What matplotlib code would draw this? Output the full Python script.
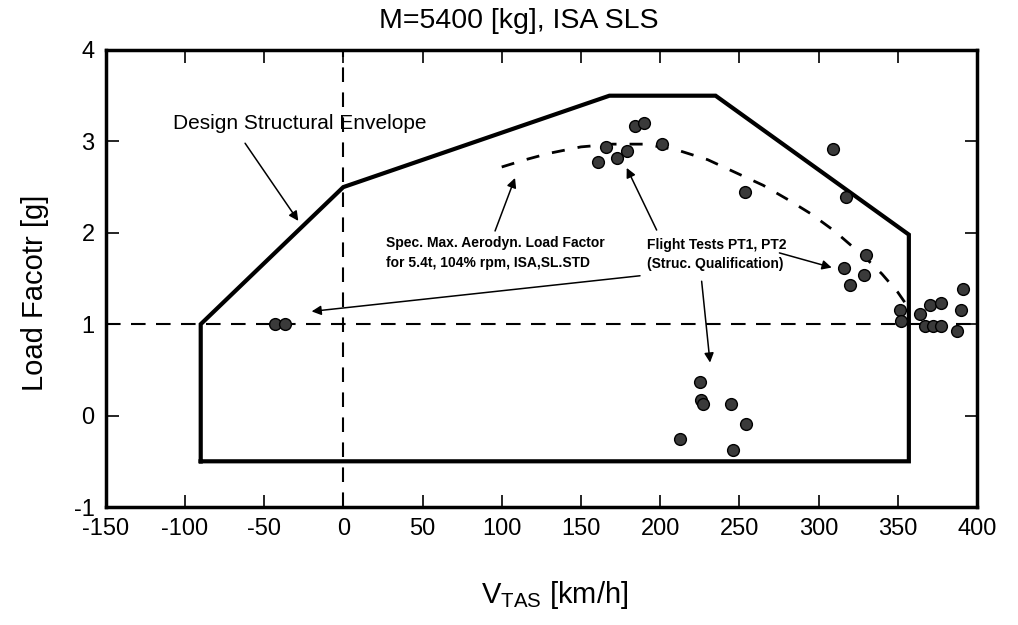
import matplotlib
matplotlib.use('Agg')
import matplotlib.pyplot as plt

plt.rcParams['font.family'] = ['Liberation Sans', 'DejaVu Sans']
plt.rcParams['mathtext.fontset'] = 'custom'
plt.rcParams['mathtext.rm'] = 'Liberation Sans'
plt.rcParams['mathtext.it'] = 'Liberation Sans'
plt.rcParams['axes.unicode_minus'] = False

# design structural envelope (closed polygon)
env_v = [-90, -90, 0, 168, 235, 357, 357, -90]
env_g = [-0.5, 1.0, 2.5, 3.5, 3.5, 1.98, -0.5, -0.5]

# specified max aerodynamic load factor curve
spec_v = [100, 115, 130, 150, 170, 190, 210, 230, 250, 265, 280, 295, 310, 320, 330, 340, 350, 356]
spec_g = [2.72, 2.80, 2.87, 2.94, 2.97, 2.97, 2.91, 2.80, 2.64, 2.52, 2.37, 2.21, 2.02, 1.87, 1.72, 1.55, 1.35, 1.20]

# flight test points PT1, PT2
test_v = [-43, -37,
          161, 166, 173, 179, 201, 184, 190,
          253.5, 309, 317.5,
          316, 320, 329, 330,
          351.5, 352, 364, 370.5, 377, 367.5, 372.5, 377, 387.5, 391, 390,
          225, 226, 227, 244.5, 254.5, 212.5, 246]
test_g = [1.0, 1.0,
          2.78, 2.94, 2.82, 2.90, 2.97, 3.17, 3.20,
          2.45, 2.92, 2.39,
          1.62, 1.43, 1.54, 1.76,
          1.16, 1.04, 1.11, 1.21, 1.23, 0.98, 0.98, 0.98, 0.93, 1.38, 1.15,
          0.37, 0.17, 0.13, 0.13, -0.09, -0.26, -0.38]

fig = plt.figure(figsize=(10.18, 6.25), dpi=100)
ax = fig.add_axes([0.1038, 0.1888, 0.8559, 0.7312])

ax.axvline(0, color='black', lw=1.5, ls=(0, (7, 5)))
ax.axhline(1, color='black', lw=1.5, ls=(0, (7, 5)))
ax.plot(env_v, env_g, color='black', lw=3, solid_joinstyle='miter')
ax.plot(spec_v, spec_g, color='black', lw=2, ls=(0, (4.7, 4.7)))
ax.scatter(test_v, test_g, s=72, facecolor='#3a3a3a', edgecolor='black', lw=1, zorder=5)

ax.set_xlim(-150, 400)
ax.set_ylim(-1, 4)
ax.set_xticks(range(-150, 401, 50))
ax.set_yticks(range(-1, 5))
ax.tick_params(direction='in', length=9, width=1.2, top=True, right=True,
               labelsize=17, pad=8)
for sp in ax.spines.values():
    sp.set_linewidth(2.5)

arrow = dict(arrowstyle='-|>', color='black', lw=1.1, mutation_scale=14,
             shrinkA=0, shrinkB=0)
small = dict(fontsize=10, fontweight='bold',
             family=['Liberation Sans Narrow', 'Liberation Sans'])

ax.text(-107.5, 3.2, 'Design Structural Envelope', fontsize=15, va='center')
ax.annotate('', xy=(-28.4, 2.13), xytext=(-62, 2.98), arrowprops=arrow)

ax.text(27, 1.78, 'Spec. Max. Aerodyn. Load Factor\nfor 5.4t, 104% rpm, ISA,SL.STD',
        va='center', linespacing=1.5, **small)
ax.annotate('', xy=(108.4, 2.60), xytext=(95.8, 2.02), arrowprops=arrow)

ax.text(191.5, 1.76, 'Flight Tests PT1, PT2\n(Struc. Qualification)',
        va='center', linespacing=1.5, **small)
ax.annotate('', xy=(178.9, 2.71), xytext=(197.8, 2.03), arrowprops=arrow)
ax.annotate('', xy=(308.3, 1.62), xytext=(275.3, 1.78), arrowprops=arrow)
ax.annotate('', xy=(231.5, 0.58), xytext=(226.2, 1.47), arrowprops=arrow)
ax.annotate('', xy=(-20, 1.14), xytext=(187.3, 1.53), arrowprops=arrow)

fig.text(0.51, 0.966, 'M=5400 [kg], ISA SLS', fontsize=20.5, ha='center', va='center')
fig.text(0.545, 0.048, r'V$_{\rm TAS}$ [km/h]', fontsize=21, ha='center', va='center')
fig.text(0.034, 0.531, 'Load Facotr [g]', fontsize=21, rotation=90, ha='center', va='center')

fig.savefig('out.png', dpi=100)
